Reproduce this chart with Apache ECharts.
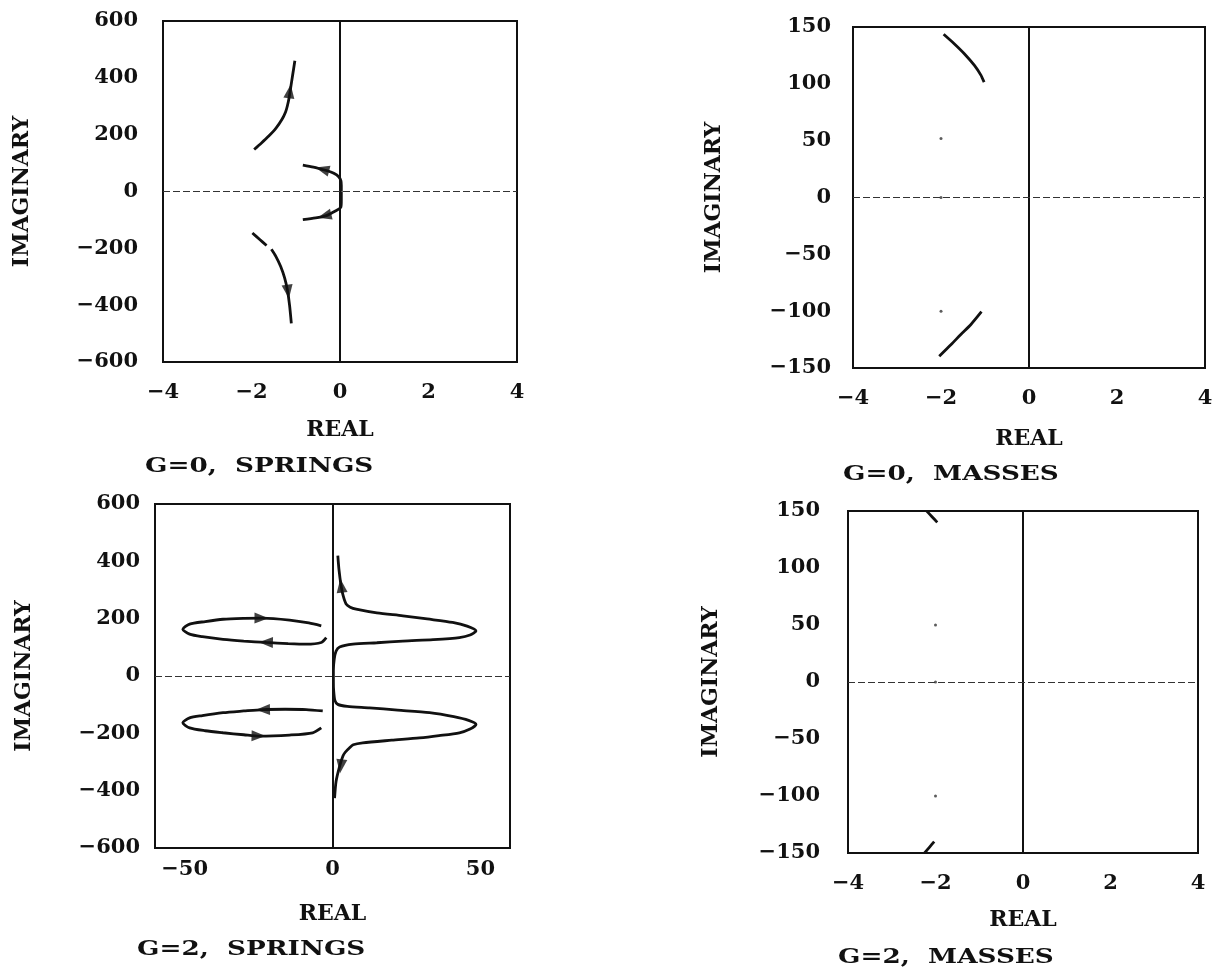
<!DOCTYPE html>
<html><head><meta charset="utf-8">
<script src="https://cdn.jsdelivr.net/npm/echarts@6/dist/echarts.min.js"></script>
<style>html,body{margin:0;padding:0;background:#fff}#c{width:1217px;height:972px}</style>
</head><body><div id="c"></div>
<script>
// ---------- DATA ----------
// Panel 1: G=0, SPRINGS  (real -4..4, imaginary -600..600)
const springsG0UpperBranch = [[-1.94,148],[-1.78,170],[-1.61,195],[-1.45,222],[-1.31,254],[-1.23,280],[-1.19,301],[-1.15,330],[-1.12,360],[-1.07,410],[-1.02,460]];
const springsG0LowerBranchA = [[-1.98,-146],[-1.82,-168],[-1.66,-190]];
const springsG0LowerBranchB = [[-1.55,-203],[-1.45,-228],[-1.34,-264],[-1.25,-305],[-1.19,-346],[-1.14,-400],[-1.10,-464]];
const springsG0UpperInner = [[0.03,0],[0.03,20],[0.02,38],[-0.03,52],[-0.14,64],[-0.27,72],[-0.41,78],[-0.6,86],[-0.84,93]];
const springsG0LowerInner = [[0.03,0],[0.03,-30],[0.02,-55],[-0.03,-62],[-0.18,-75],[-0.33,-86],[-0.55,-93],[-0.84,-99]];
// arrows: [xTail, yTail, xHead, yHead]
const springsG0Arrows = [[-1.15,335,-1.12,370],[-1.19,-335,-1.16,-370],[-0.3,74,-0.5,82],[-0.25,-82,-0.45,-90]];

// Panel 2: G=0, MASSES  (real -4..4, imaginary -150..150)
const massesG0Upper = [[-1.94,143.6],[-1.70,135.3],[-1.47,126.5],[-1.24,116.2],[-1.09,107.4],[-1.02,101.5]];
const massesG0Lower = [[-2.04,-139.7],[-1.77,-129.4],[-1.55,-120.5],[-1.32,-111.7],[-1.08,-100.5]];
const massesG0Dots = [[-2,52],[-2,0],[-2,-100]];

// Panel 3: G=2, SPRINGS  (real -60..60, imaginary -600..600)
const springsG2Right = [[1.8,420],[2.2,370],[2.9,315],[3.6,280],[4.6,251],[6,240],[8,233],[15,220],[23.8,210],[32,199],[40.6,187],[45.5,174],[48.5,157],[46.5,143],[42.9,134],[34,127],[23.8,122],[15,116],[6.9,111],[2.4,101],[1.2,87],[0.6,60],[0.3,20],[0.3,-20],[0.4,-52],[0.8,-85],[1.8,-99],[5,-106],[12.5,-111],[22,-119],[32.8,-128],[41,-142],[46,-155],[48.5,-169],[46.5,-185],[42.9,-198],[36,-208],[29.4,-216],[20,-224],[10.2,-233],[7,-240],[5.7,-251],[4.3,-266],[3.5,-280],[2.4,-315],[1.2,-368],[0.7,-426]];
const springsG2LoopUpper = [[-2.1,134],[-3.8,117],[-8.9,111],[-15,113],[-22.4,117],[-30,122],[-37,128],[-44,137],[-48.3,146],[-50.6,163],[-48.3,181],[-43,190],[-37,198],[-30,201],[-23.5,202],[-14.5,195],[-8,185],[-3.8,175]];
const springsG2LoopLower = [[-3.3,-122],[-8.9,-117],[-16,-116],[-23.5,-117],[-30,-122],[-37,-128],[-44,-138],[-48.3,-146],[-50.6,-163],[-48.3,-181],[-43,-191],[-37,-198],[-30,-205],[-24.7,-210],[-14.5,-206],[-6.7,-198],[-3.8,-181]];
const springsG2Arrows = [[-28,202,-20,201.5],[-18,116,-27,118],[-19,-116,-28,-118],[-29,-208,-21,-210],[3.2,295,2.7,335],[3.1,-295,2.6,-335]];

// Panel 4: G=2, MASSES  (real -4..4, imaginary -150..150)
const massesG2Upper = [[-2.2,150],[-2.08,145],[-1.96,140]];
const massesG2Lower = [[-2.25,-150],[-2.14,-145],[-2.03,-140]];
const massesG2Dots = [[-2,50],[-2,0],[-2,-100]];

// tick labels
const realTicksSmall = [-4,-2,0,2,4];
const realTicksWide = [-50,0,50];
const imagTicksSprings = [-600,-400,-200,0,200,400,600];
const imagTicksMasses = [-150,-100,-50,0,50,100,150];
const captions = ['G=0,  SPRINGS','G=0,  MASSES','G=2,  SPRINGS','G=2,  MASSES'];

// ---------- CHART ----------
const FONT = 'DejaVu Serif';
const INK = '#111';
const fmt = v => (v < 0 ? '\u2212' + (-v) : String(v));

const grids = [
  {left:163, top:21, width:354, height:341},
  {left:853, top:27, width:352, height:341},
  {left:155, top:504, width:355, height:344},
  {left:848, top:511, width:350, height:342}
];
const xCfg = [
  {min:-4,max:4,ticks:realTicksSmall,margin:20,gap:57},
  {min:-4,max:4,ticks:realTicksSmall,margin:20,gap:60},
  {min:-60,max:60,ticks:realTicksWide,margin:11,gap:55},
  {min:-4,max:4,ticks:realTicksSmall,margin:20,gap:56}
];
const yCfg = [
  {min:-600,max:600,ticks:imagTicksSprings,margin:25,gap:130},
  {min:-150,max:150,ticks:imagTicksMasses,margin:22,gap:128},
  {min:-600,max:600,ticks:imagTicksSprings,margin:15,gap:120},
  {min:-150,max:150,ticks:imagTicksMasses,margin:28,gap:126}
];
const labelStyle = {fontFamily:FONT, fontWeight:'bold', fontSize:21, color:INK};

const option = {
  animation:false,
  backgroundColor:'#fff',
  grid: grids.map(g => Object.assign({show:true, borderColor:INK, borderWidth:2, backgroundColor:'transparent'}, g)),
  xAxis: xCfg.map((c,i) => ({
    type:'value', gridIndex:i, min:c.min, max:c.max,
    name:'REAL', nameLocation:'middle', nameGap:c.gap,
    nameTextStyle: Object.assign({}, labelStyle, {fontSize:22}),
    axisLine:{show:false}, axisTick:{show:false}, splitLine:{show:false},
    axisLabel: Object.assign({customValues:c.ticks, formatter:fmt, margin:c.margin, showMinLabel:true, showMaxLabel:true}, labelStyle)
  })),
  yAxis: yCfg.map((c,i) => ({
    type:'value', gridIndex:i, min:c.min, max:c.max,
    name:'IMAGINARY', nameLocation:'middle', nameGap:c.gap, nameRotate:90,
    nameTextStyle: Object.assign({}, labelStyle, {fontSize:22}),
    axisLine:{show:false}, axisTick:{show:false}, splitLine:{show:false},
    axisLabel: Object.assign({customValues:c.ticks, formatter:fmt, margin:c.margin, showMinLabel:true, showMaxLabel:true}, labelStyle)
  })),
  graphic: captions.map((t,i) => ({
    type:'text',
    left: [145, 843, 137, 838][i],
    top: [456, 464, 939, 947][i],
    scaleX: 1.25,
    style:{text:t, font:'bold 21px "' + FONT + '"', fill:INK}
  })),
  series: []
};

function curve(g, data, withAxes) {
  const s = {
    type:'line', xAxisIndex:g, yAxisIndex:g, data:data,
    showSymbol:false, symbol:'none', smooth:0.25, clip:true, silent:true,
    lineStyle:{color:INK, width:2.8}
  };
  if (withAxes) {
    s.markLine = {
      silent:true, symbol:['none','none'], label:{show:false},
      data:[
        {xAxis:0, lineStyle:{color:INK, width:2, type:'solid'}},
        {yAxis:0, lineStyle:{color:'#333', width:1, type:[7,3]}}
      ]
    };
  }
  return s;
}
function dots(g, data) {
  return {type:'scatter', xAxisIndex:g, yAxisIndex:g, data:data, symbol:'circle', symbolSize:3, silent:true, itemStyle:{color:'#333'}};
}

option.series.push(
  curve(0, springsG0UpperBranch, true),
  curve(0, springsG0LowerBranchA),
  curve(0, springsG0LowerBranchB),
  curve(0, springsG0UpperInner),
  curve(0, springsG0LowerInner),
  curve(1, massesG0Upper, true),
  curve(1, massesG0Lower),
  dots(1, massesG0Dots),
  curve(2, springsG2Right, true),
  curve(2, springsG2LoopUpper),
  curve(2, springsG2LoopLower),
  curve(3, massesG2Upper, true),
  curve(3, massesG2Lower),
  dots(3, massesG2Dots)
);

const chart = echarts.init(document.getElementById('c'), null, {renderer:'canvas'});
chart.setOption(option);

// arrowheads: direction computed in pixel space through the axes
function arrowSeries(g, arrows) {
  const data = arrows.map(a => {
    const p0 = chart.convertToPixel({gridIndex:g}, [a[0], a[1]]);
    const p1 = chart.convertToPixel({gridIndex:g}, [a[2], a[3]]);
    const dx = p1[0]-p0[0], dy = p1[1]-p0[1];
    const rot = Math.atan2(-dx, -dy) * 180 / Math.PI;
    return {value:[(a[0]+a[2])/2, (a[1]+a[3])/2], symbolRotate:rot};
  });
  return {type:'scatter', xAxisIndex:g, yAxisIndex:g, data:data, symbol:'triangle', symbolSize:[11,14], silent:true, itemStyle:{color:INK}, z:5};
}
chart.setOption({series: option.series.concat([arrowSeries(0, springsG0Arrows), arrowSeries(2, springsG2Arrows)])});
</script></body></html>
